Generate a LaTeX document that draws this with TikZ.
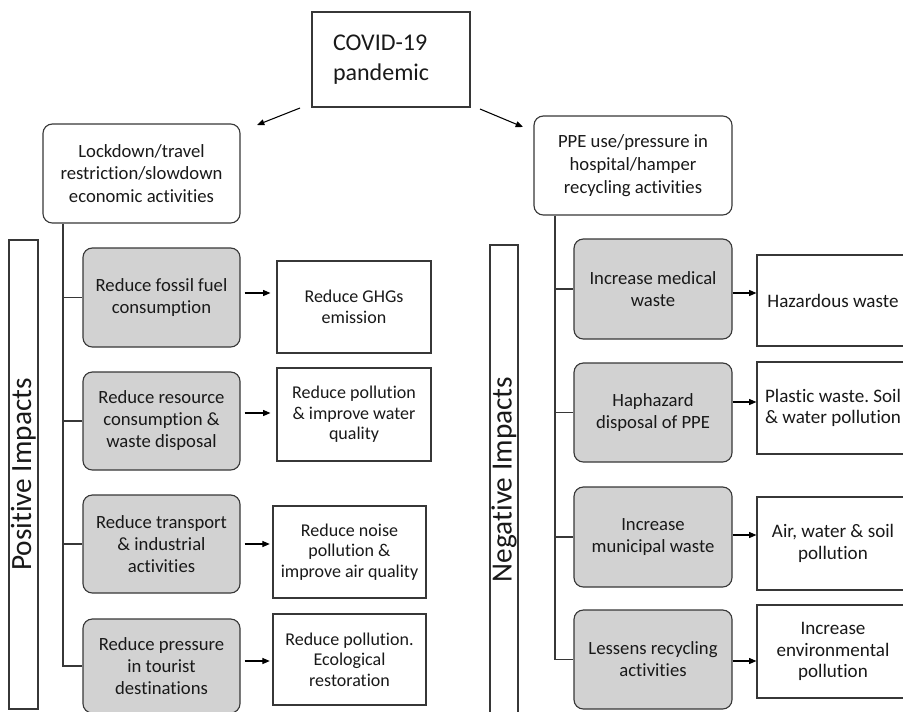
\documentclass[tikz,border=0pt]{standalone}
\usepackage{fontspec}
\setmainfont{Carlito}[Ligatures=NoCommon]
\usetikzlibrary{arrows.meta}
\frenchspacing
\definecolor{boxgray}{RGB}{210,210,210}
\definecolor{txt}{RGB}{25,25,25}
\definecolor{edgec}{RGB}{55,55,55}
\tikzset{
  sz/.style 2 args={minimum width=#1*0.75pt, minimum height=#2*0.75pt},
  base/.style={draw=edgec, line width=0.85pt, text=txt, align=center, inner sep=0pt,
    font=\fontsize{14}{16.5}\selectfont},
  graybox/.style={base, fill=boxgray, rounded corners=7pt},
  whitebox/.style={base, fill=white, font=\fontsize{13.5}{15.5}\selectfont},
  rwhitebox/.style={base, fill=white, font=\fontsize{14.3}{16}\selectfont},
  roundbox/.style={base, fill=white, rounded corners=7pt, font=\fontsize{14}{17}\selectfont},
  sidebox/.style={base, fill=white, font=\fontsize{22}{26}\selectfont},
  link/.style={draw=edgec, line width=0.8pt},
  arr/.style={draw=black, line width=0.8pt, -{Triangle[length=5.5pt,width=4.5pt]}},
}
\begin{document}
\begin{tikzpicture}[x=0.75pt,y=-0.75pt]
\useasboundingbox (0,0) rectangle (903,711);
\clip (0,0) rectangle (903,711);

% top
\node[base, sz={158}{95}, text width=116*0.75pt, align=left,
  font=\fontsize{18}{23}\selectfont] (covid) at (391,59.5) {COVID-19\\pandemic};
\node[roundbox, sz={197}{99}] (lock) at (141.5,173.5) {Lockdown/travel\\restriction/slowdown\\economic activities};
\node[roundbox, sz={198}{99}] (ppe) at (633,165.5) {PPE use/pressure in\\hospital/hamper\\recycling activities};

\coordinate (a1s) at (300,108);
\coordinate (a1e) at (257,125);
\coordinate (a2s) at (480,109);
\coordinate (a2e) at (523,127);
\draw[arr] (a1s) -- (a1e);
\draw[arr] (a2s) -- (a2e);

% side labels
\node[sidebox, rotate=90, sz={469}{29}] (pos) at (23.5,474.5) {Positive Impacts};
\node[sidebox, rotate=90, sz={469}{28}] (neg) at (504,479.5) {Negative Impacts};

% left column
\node[graybox, sz={157}{99}] (g1) at (161.5,297.5) {Reduce fossil fuel\\consumption};
\node[graybox, sz={157}{98}] (g2) at (161.5,421) {Reduce resource\\consumption \&\\waste disposal};
\node[graybox, sz={157}{98}] (g3) at (161.5,544) {Reduce transport\\\& industrial\\activities};
\node[graybox, sz={157}{94}] (g4) at (161.5,666) {Reduce pressure\\in tourist\\destinations};

\node[whitebox, sz={154}{92}] (w1) at (354,307) {Reduce GHGs\\emission};
\node[whitebox, sz={154}{93}] (w2) at (354,414.5) {Reduce pollution\\\& improve water\\quality};
\node[whitebox, sz={153}{92}] (w3) at (349.5,552) {Reduce noise\\pollution \&\\improve air quality};
\node[whitebox, sz={153}{91}] (w4) at (349.5,659.5) {Reduce pollution.\\Ecological\\restoration};

\coordinate (lx) at (63,0);
\draw[link] (lock.south -| lx) |- (g4.west);
\foreach \n in {g1,g2,g3} \draw[link] (lx |- \n.west) -- (\n.west);

\coordinate (ay1) at (0,293);
\coordinate (ay2) at (0,413);
\coordinate (ay3) at (0,544);
\coordinate (ay4) at (0,661);
\draw[arr, shorten <=3pt, shorten >=4.5pt] (g1.east |- ay1) -- (w1.west |- ay1);
\draw[arr, shorten <=3pt, shorten >=4.5pt] (g2.east |- ay2) -- (w2.west |- ay2);
\draw[arr, shorten <=3pt, shorten >=2pt] (g3.east |- ay3) -- (w3.west |- ay3);
\draw[arr, shorten <=3pt, shorten >=2pt] (g4.east |- ay4) -- (w4.west |- ay4);

% right column
\node[graybox, sz={158}{100}] (r1) at (653,289) {Increase medical\\waste};
\node[graybox, sz={158}{99}] (r2) at (653,412.5) {Haphazard\\disposal of PPE};
\node[graybox, sz={158}{100}] (r3) at (653,537) {Increase\\municipal waste};
\node[graybox, sz={158}{99}] (r4) at (653,659.5) {Lessens recycling\\activities};

\node[rwhitebox, sz={152}{91}] (v1) at (833,300.5) {Hazardous waste};
\node[rwhitebox, sz={152}{92}] (v2) at (833,408) {Plastic waste. Soil\\\& water pollution};
\node[rwhitebox, sz={152}{93}] (v3) at (833,543.5) {Air, water \& soil\\pollution};
\node[rwhitebox, sz={152}{93}] (v4) at (833,651.5) {Increase\\environmental\\pollution};

\coordinate (rx) at (555,0);
\draw[link] (ppe.south -| rx) |- (r4.west);
\foreach \n in {r1,r2,r3} \draw[link] (rx |- \n.west) -- (\n.west);

\coordinate (by1) at (0,293);
\coordinate (by2) at (0,402);
\coordinate (by3) at (0,535);
\coordinate (by4) at (0,661);
\draw[arr] (r1.east |- by1) -- (v1.west |- by1);
\draw[arr] (r2.east |- by2) -- (v2.west |- by2);
\draw[arr] (r3.east |- by3) -- (v3.west |- by3);
\draw[arr] (r4.east |- by4) -- (v4.west |- by4);
\end{tikzpicture}
\end{document}
